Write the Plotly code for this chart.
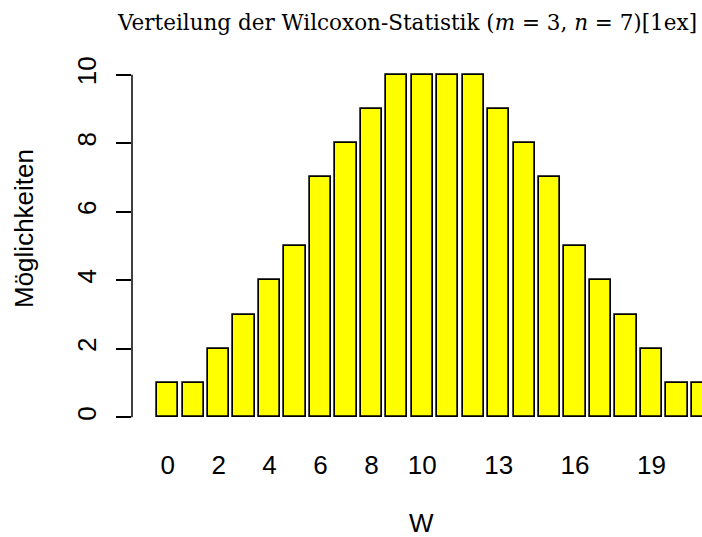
import plotly.graph_objects as go

# Wilcoxon rank-sum statistic, m = 3, n = 7
w_values = list(range(22))
counts = [1, 1, 2, 3, 4, 5, 7, 8, 9, 10, 10, 10, 10, 9, 8, 7, 5, 4, 3, 2, 1, 1]
x_ticks = [0, 2, 4, 6, 8, 10, 13, 16, 19]
y_ticks = [0, 2, 4, 6, 8, 10]

W, H = 702, 537
L, R, T, B = 132, 0, 61, 106
pw, ph = W - L - R, H - T - B


def px_x(p):
    return (p - L) / pw


def px_y(p):
    return (H - B - p) / ph


fig = go.Figure()
fig.add_trace(go.Bar(
    x=w_values, y=counts, width=0.833,
    marker=dict(color="#FFFF00", line=dict(color="black", width=1.7)),
    showlegend=False,
))

sans = "Liberation Sans, Arial, sans-serif"

fig.update_layout(
    width=W, height=H,
    margin=dict(l=L, r=R, t=T, b=B),
    plot_bgcolor="white", paper_bgcolor="white",
    font=dict(family=sans, size=26, color="black"),
    bargap=0,
    xaxis=dict(range=[-1.402, 20.986], tickvals=x_ticks, ticktext=[str(v) for v in x_ticks],
               ticks="outside", ticklen=11, tickcolor="rgba(0,0,0,0)",
               showline=False, showgrid=False, zeroline=False),
    yaxis=dict(range=[-0.4, 10.4], tickvals=y_ticks, tickangle=-90,
               ticks="outside", ticklen=15, tickwidth=1.5, tickcolor="black",
               ticklabelstandoff=10,
               showline=False, showgrid=False, zeroline=False),
)

# y axis line only spanning 0..10, like R's axis()
fig.add_shape(type="line", xref="paper", yref="y", x0=0, x1=0, y0=0, y1=10,
              line=dict(color="black", width=1.5))

fig.add_annotation(text="Verteilung der Wilcoxon-Statistik (<i>m</i> = 3, <i>n</i> = 7)[1ex]",
                   xref="paper", yref="paper", x=px_x(407), y=px_y(23),
                   xanchor="center", yanchor="middle", showarrow=False,
                   font=dict(family="DejaVu Serif, serif", size=21.5))
fig.add_annotation(text="Möglichkeiten", textangle=-90,
                   xref="paper", yref="paper", x=px_x(24), y=px_y(229),
                   xanchor="center", yanchor="middle", showarrow=False)
fig.add_annotation(text="W", xref="paper", yref="paper", x=px_x(421), y=px_y(523),
                   xanchor="center", yanchor="middle", showarrow=False)

fig.write_html("out.html", config={"displayModeBar": False},
               post_script="document.body.style.margin = '0';")
